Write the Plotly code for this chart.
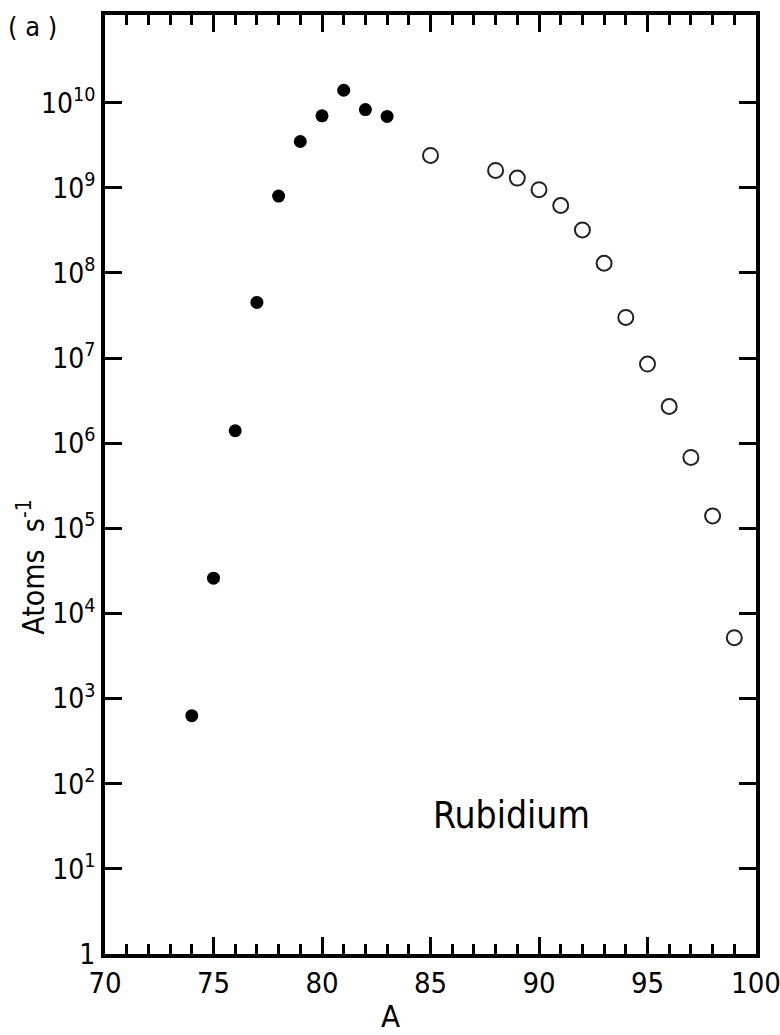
import plotly.graph_objects as go

# Data (mass number A vs. yield in atoms/s)
A_filled = [74, 75, 76, 77, 78, 79, 80, 81, 82, 83]
rate_filled = [6.3e2, 2.6e4, 1.4e6, 4.5e7, 8.0e8, 3.5e9, 7.0e9, 1.4e10, 8.3e9, 6.9e9]

A_open = [85, 88, 89, 90, 91, 92, 93, 94, 95, 96, 97, 98, 99]
rate_open = [2.4e9, 1.6e9, 1.3e9, 9.5e8, 6.2e8, 3.2e8, 1.3e8, 3.0e7, 8.5e6, 2.7e6, 6.8e5, 1.4e5, 5.2e3]

x_ticks = [70, 75, 80, 85, 90, 95, 100]
y_ticks = [10**k for k in range(0, 11)]
y_tick_text = ["1"] + ["10<sup>%d</sup>" % k for k in range(1, 11)]

FONT = "DejaVu Sans Condensed, Liberation Sans, sans-serif"

fig = go.Figure()
fig.add_trace(go.Scatter(
    x=A_filled, y=rate_filled, mode="markers",
    marker=dict(symbol="circle", size=13, color="black", line=dict(width=0)),
    showlegend=False))
fig.add_trace(go.Scatter(
    x=A_open, y=rate_open, mode="markers",
    marker=dict(symbol="circle-open", size=15, color="#222", line=dict(width=2)),
    showlegend=False))

fig.update_layout(
    width=780, height=1035,
    margin=dict(l=105, r=24, t=15, b=81, autoexpand=False),
    paper_bgcolor="white", plot_bgcolor="white",
    font=dict(family=FONT, size=30, color="black"),
    showlegend=False,
)
fig.update_xaxes(
    range=[70, 100], tickvals=x_ticks, ticktext=[str(v) for v in x_ticks],
    ticks="inside", ticklen=17, tickwidth=2.5, tickcolor="black",
    minor=dict(dtick=1, ticks="inside", ticklen=10, tickwidth=2.5, tickcolor="black"),
    showline=True, linewidth=4, linecolor="black", mirror="ticks",
    showgrid=False, zeroline=False, ticklabeloverflow="allow", automargin=False,
    tickfont=dict(family=FONT, size=29, color="black"),
)
fig.update_yaxes(
    type="log", range=[0, 11.03], tickvals=y_ticks, ticktext=y_tick_text,
    ticks="inside", ticklen=17, tickwidth=2.5, tickcolor="black",
    showline=True, linewidth=4, linecolor="black", mirror="ticks",
    showgrid=False, zeroline=False, ticklabeloverflow="allow", automargin=False,
    tickfont=dict(family=FONT, size=28, color="black"),
)

fig.add_annotation(text="Atoms  s<sup>-1</sup>", xref="paper", yref="paper",
                   x=-0.112, y=0.4115, xanchor="center", yanchor="middle",
                   textangle=-90, showarrow=False, font=dict(family=FONT, size=30))
fig.add_annotation(text="A", xref="paper", yref="paper",
                   x=0.438, y=-0.066, xanchor="center", yanchor="middle",
                   showarrow=False, font=dict(family=FONT, size=31))
fig.add_annotation(text="Rubidium", xref="paper", yref="paper",
                   x=0.625, y=0.148, xanchor="center", yanchor="middle",
                   showarrow=False, font=dict(family=FONT, size=37))
fig.add_annotation(text="( a )", xref="paper", yref="paper",
                   x=-0.111, y=0.988, xanchor="center", yanchor="middle",
                   showarrow=False, font=dict(family=FONT, size=27))

fig.write_html("out.html")
